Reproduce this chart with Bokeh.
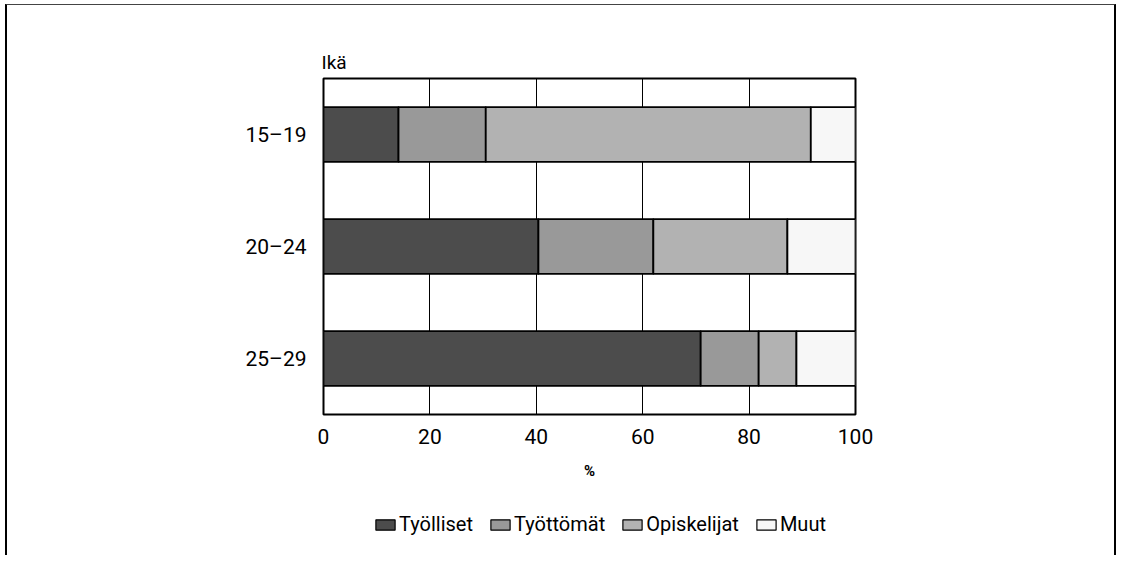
from bokeh.plotting import figure
from bokeh.layouts import column
from bokeh.models import Legend, LegendItem, FactorRange, Range1d, FixedTicker
from bokeh.embed import file_html
from bokeh.resources import INLINE

ages = ["15–19", "20–24", "25–29"]
series = ["Työlliset", "Työttömät", "Opiskelijat", "Muut"]
tyolliset = [14.1, 40.4, 70.9]
tyottomat = [16.4, 21.6, 10.9]
opiskelijat = [61.1, 25.2, 7.1]
muut = [8.4, 12.8, 11.1]
x_ticks = [0, 20, 40, 60, 80, 100]
colors = ["#4c4c4c", "#999999", "#b2b2b2", "#f7f7f7"]

FONT = "Roboto"

data = dict(age=ages)
for name, vals in zip(series, [tyolliset, tyottomat, opiskelijat, muut]):
    data[name] = vals

p = figure(width=1107, height=490, output_backend="svg", toolbar_location=None,
           y_range=FactorRange(factors=list(reversed(ages)), range_padding=0),
           x_range=Range1d(0, 100),
           min_border_left=316, min_border_right=259, min_border_top=73,
           min_border_bottom=81)

renderers = p.hbar_stack(series, y="age", height=0.49, color=colors, source=data,
                         line_color="black", line_width=1.8)

p.title.text = "Ikä"
p.title.text_font = FONT
p.title.text_font_size = "19px"
p.title.text_font_style = "normal"
p.title.text_color = "black"
p.title.align = "left"
p.title.offset = -2

p.outline_line_color = "black"
p.outline_line_width = 2
p.xgrid.grid_line_color = "black"
p.xgrid.grid_line_width = 1
p.ygrid.grid_line_color = None
p.xaxis.ticker = FixedTicker(ticks=x_ticks)
p.xaxis.axis_line_color = None
p.xaxis.major_tick_line_color = None
p.xaxis.minor_tick_line_color = None
p.xaxis.major_label_text_font = FONT
p.xaxis.major_label_text_font_size = "21px"
p.xaxis.major_label_text_color = "black"
p.xaxis.major_label_standoff = 8
p.xaxis.axis_label = "%"
p.xaxis.axis_label_text_font = FONT
p.xaxis.axis_label_text_font_size = "15px"
p.xaxis.axis_label_text_font_style = "bold"
p.xaxis.axis_label_text_color = "black"
p.xaxis.axis_label_standoff = 15
p.yaxis.axis_line_color = None
p.yaxis.major_tick_line_color = None
p.yaxis.minor_tick_line_color = None
p.yaxis.major_label_text_font = FONT
p.yaxis.major_label_text_font_size = "21px"
p.yaxis.major_label_text_color = "black"
p.yaxis.major_label_standoff = 11

# legend strip below the chart: its bars are hidden, only the swatches show
lg = figure(width=1107, height=60, output_backend="svg", toolbar_location=None,
            x_range=Range1d(0, 100), y_range=FactorRange(factors=ages),
            min_border=0, outline_line_color=None)
lg.xaxis.visible = False
lg.yaxis.visible = False
lg.grid.visible = False
swatches = lg.hbar_stack(series, y="age", height=0.5, color=colors, source=data,
                         line_color="black", line_width=1.2)
for r in swatches:
    r.visible = False
items = [LegendItem(label=s, renderers=[r]) for s, r in zip(series, swatches)]
legend = Legend(items=items, orientation="horizontal", location=(50, 19),
                label_text_font=FONT, label_text_font_size="20px",
                label_text_color="black",
                glyph_width=24, glyph_height=13, label_standoff=2, spacing=15,
                border_line_color=None, background_fill_alpha=0, margin=0,
                padding=4, inactive_fill_alpha=0)
lg.add_layout(legend, "center")

layout = column(p, lg, spacing=0,
                styles={"margin-left": "5px", "margin-top": "4px",
                        "border-left": "2px solid black",
                        "border-top": "1px solid #444",
                        "border-right": "2px solid black"})

open("out.html", "w").write(file_html(layout, INLINE))
